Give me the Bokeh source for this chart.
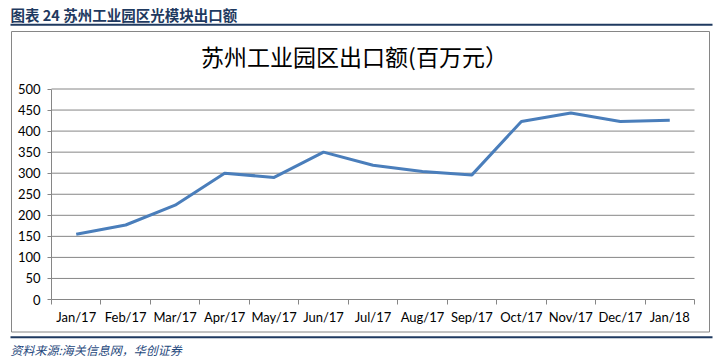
from bokeh.plotting import figure
from bokeh.models import Range1d, LinearAxis, FixedTicker, Label, ColumnDataSource
from bokeh.embed import file_html
from bokeh.resources import INLINE

# ---- data ----
months = ["Jan/17", "Feb/17", "Mar/17", "Apr/17", "May/17", "Jun/17", "Jul/17",
          "Aug/17", "Sep/17", "Oct/17", "Nov/17", "Dec/17", "Jan/18"]
exports = [155, 177, 224, 300, 290, 350, 319, 304, 296, 423, 443, 423, 426]
y_ticks = [0, 50, 100, 150, 200, 250, 300, 350, 400, 450, 500]

header_text = "图表 24 苏州工业园区光模块出口额"
chart_title = "苏州工业园区出口额(百万元）"
source_text = "资料来源:海关信息网，华创证券"

# ---- layout (picture pixels -> data units) ----
W, H = 713, 363
X_LEFT, X_RIGHT = 51.0, 694.0      # pixel x of category edge 0 and 13
Y_ZERO, Y_TOP = 299.0, 88.5        # pixel y of value 0 and 500
n = len(months)
ux = (X_RIGHT - X_LEFT) / n
uy = (Y_ZERO - Y_TOP) / y_ticks[-1]


def dx(px):
    return (px - X_LEFT) / ux


def dy(py):
    return (Y_ZERO - py) / uy


p = figure(width=W, height=H, output_backend="svg", toolbar_location=None,
           x_range=Range1d(dx(0), dx(W)), y_range=Range1d(dy(H), dy(0)),
           x_axis_type=None, y_axis_type=None, min_border=0,
           outline_line_color=None, background_fill_color="white",
           border_fill_color="white")

GRID = "#868686"
NAVY = "#1F3A60"

# chart box
p.quad(left=[dx(11)], right=[dx(709)], top=[dy(31)], bottom=[dy(331.5)],
       fill_color=None, line_color=GRID, line_width=1)

# header / footer rules
p.segment(x0=[dx(10), dx(10)], x1=[dx(712), dx(712)],
          y0=[dy(24.3), dy(336.7)], y1=[dy(24.3), dy(336.7)],
          line_color=NAVY, line_width=2)

# horizontal gridlines
gl = [t for t in y_ticks if t > 0]
p.segment(x0=[0] * len(gl), x1=[n] * len(gl), y0=gl, y1=gl,
          line_color=GRID, line_width=1)

# series
xs = [i + 0.5 for i in range(n)]
src = ColumnDataSource(dict(x=xs, y=exports))
p.line("x", "y", source=src, line_color="#4A7EBB", line_width=3,
       line_join="round")

# y axis
yax = LinearAxis(fixed_location=0, ticker=FixedTicker(ticks=y_ticks),
                 bounds=(0, y_ticks[-1]))
yax.axis_line_color = GRID
yax.major_tick_line_color = GRID
yax.major_tick_out = 4
yax.major_tick_in = 0
yax.minor_tick_line_color = None
yax.major_label_standoff = 7
yax.major_label_text_font = "Lato"
yax.major_label_text_font_size = "13px"
yax.major_label_text_color = "black"
p.add_layout(yax, "left")

# x axis
xax = LinearAxis(fixed_location=0,
                 ticker=FixedTicker(ticks=xs, minor_ticks=list(range(n + 1))),
                 bounds=(0, n))
xax.major_label_overrides = {x: m for x, m in zip(xs, months)}
xax.axis_line_color = GRID
xax.major_tick_line_color = None
xax.major_tick_out = 0
xax.major_tick_in = 0
xax.minor_tick_line_color = GRID
xax.minor_tick_out = 5
xax.minor_tick_in = 0
xax.major_label_standoff = 4
xax.major_label_text_font = "Lato"
xax.major_label_text_font_size = "13px"
xax.major_label_text_color = "black"
p.add_layout(xax, "below")

# texts
p.add_layout(Label(x=dx(10), y=dy(13.5), text=header_text,
                   text_font="Noto Sans CJK SC", text_font_style="bold",
                   text_font_size="14.5px", text_color=NAVY,
                   text_align="left", text_baseline="middle"))
p.add_layout(Label(x=dx(354), y=dy(55), text=chart_title,
                   text_font="Noto Sans CJK SC", text_font_size="23px",
                   text_color="black", text_align="center",
                   text_baseline="middle"))
p.add_layout(Label(x=dx(10), y=dy(349), text=source_text,
                   text_font="Noto Sans CJK SC", text_font_style="italic",
                   text_font_size="12px", text_color="#1F497D",
                   text_align="left", text_baseline="middle"))

open("out.html", "w").write(file_html(p, INLINE))
